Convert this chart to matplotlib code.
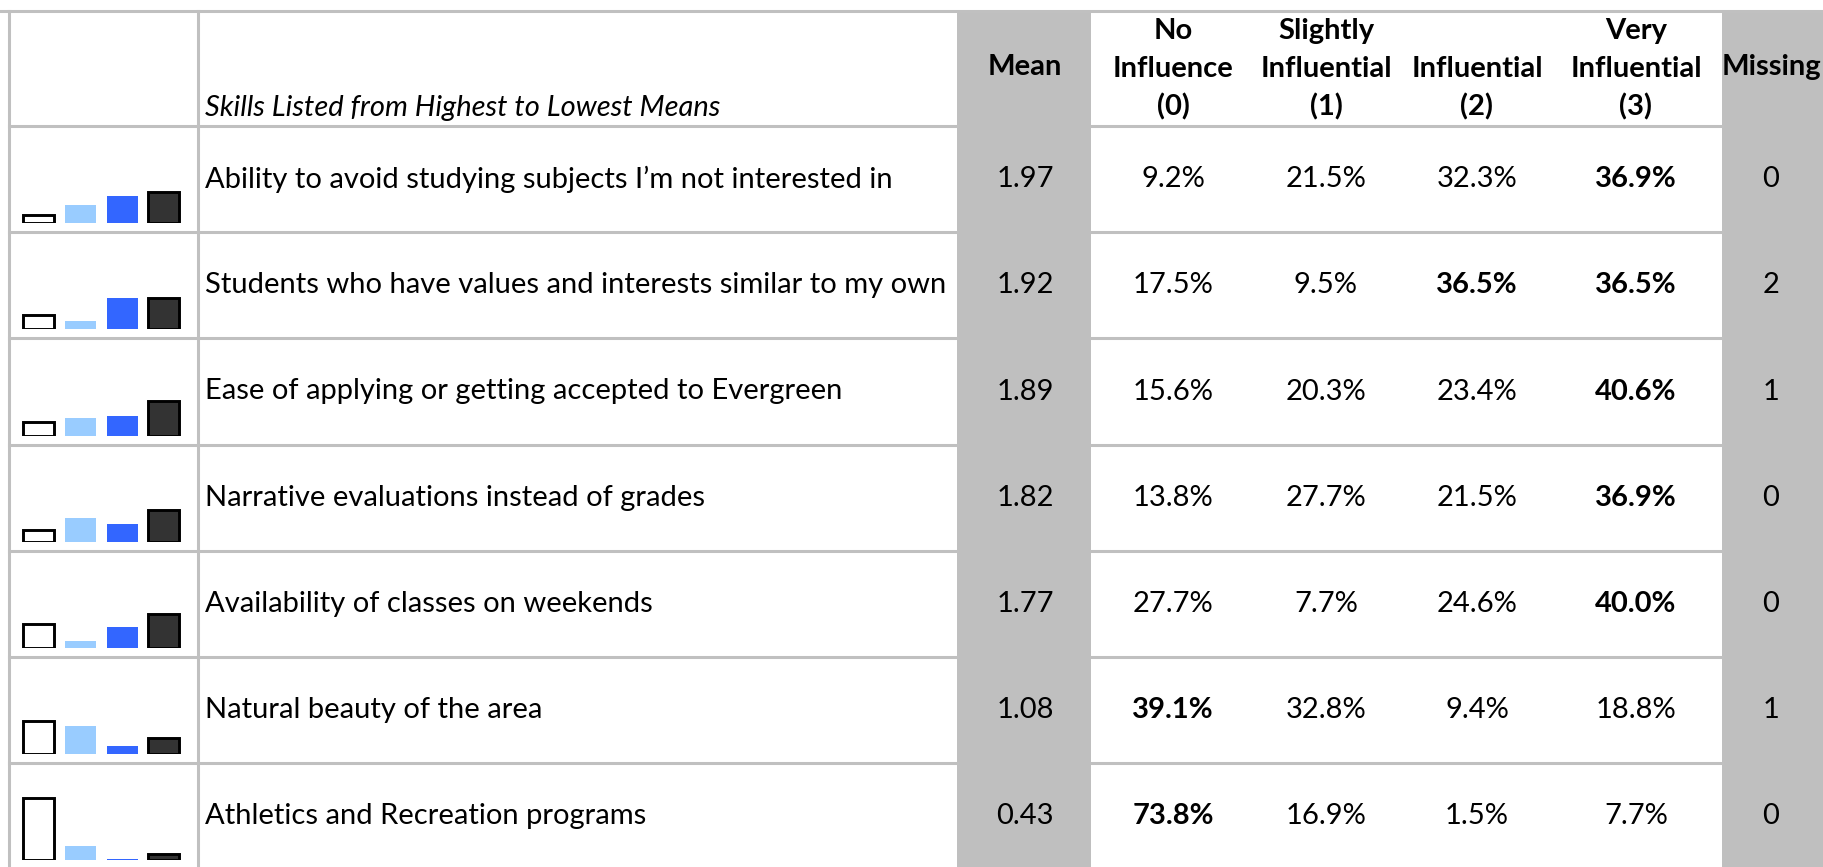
import matplotlib
matplotlib.use("Agg")
import matplotlib.pyplot as plt
import numpy as np

plt.rcParams['font.family'] = ['Lato', 'DejaVu Sans']

# table data
skills = [
    "Ability to avoid studying subjects I\u2019m not interested in",
    "Students who have values and interests similar to my own",
    "Ease of applying or getting accepted to Evergreen",
    "Narrative evaluations instead of grades",
    "Availability of classes on weekends",
    "Natural beauty of the area",
    "Athletics and Recreation programs",
]
means = [1.97, 1.92, 1.89, 1.82, 1.77, 1.08, 0.43]
no_infl = [9.2, 17.5, 15.6, 13.8, 27.7, 39.1, 73.8]
slightly = [21.5, 9.5, 20.3, 27.7, 7.7, 32.8, 16.9]
influential = [32.3, 36.5, 23.4, 21.5, 24.6, 9.4, 1.5]
very = [36.9, 36.5, 40.6, 36.9, 40.0, 18.8, 7.7]
missing = [0, 2, 1, 0, 0, 1, 0]

headers = ["Mean", "No\nInfluence\n(0)", "Slightly\nInfluential\n(1)",
           "\nInfluential\n(2)", "Very\nInfluential\n(3)", "Missing"]

W, H = 1824, 867
fig = plt.figure(figsize=(W / 100, H / 100), dpi=100)
ax = fig.add_axes([0, 0, 1, 1])
ax.set_xlim(0, W)
ax.set_ylim(H, 0)
ax.axis('off')

grid = '#C0C0C0'
shade = '#BFBFBF'
top = 11
head_bot = 126
row_h = 106.2
col_x = [1025, 1173, 1326, 1477, 1636, 1771]
fs = 21

# shaded columns
ax.axvspan(957, 1091, ymin=0, ymax=1 - top / H, color=shade, lw=0, zorder=0)
ax.axvspan(1722, W, ymin=0, ymax=1 - top / H, color=shade, lw=0, zorder=0)

# grid lines
ax.axhline(top, color=grid, lw=2.2, zorder=1)
for i in range(len(skills) + 1):
    y = head_bot + i * row_h
    ax.plot([9, 957], [y, y], color=grid, lw=2.2, zorder=1)
    ax.plot([1091, 1722], [y, y], color=grid, lw=2.2, zorder=1)
for x in [9, 198]:
    ax.plot([x, x], [top, H], color=grid, lw=2.2, zorder=1)

# header
ax.text(205, 108, "Skills Listed from Highest to Lowest Means", fontsize=fs,
        style='italic', va='center', ha='left')
for x, h in zip(col_x, headers):
    lines = h.split("\n")
    if len(lines) == 1:
        ax.text(x, 67, h, fontsize=fs, weight='bold', ha='center', va='center')
    else:
        for k, s in enumerate(lines):
            if s:
                ax.text(x, 31 + k * 38, s, fontsize=fs, weight='bold',
                        ha='center', va='center')

# rows
for i, name in enumerate(skills):
    yc = head_bot + (i + 0.5) * row_h
    ax.text(205, yc, name, fontsize=fs, ha='left', va='center')
    ax.text(col_x[0], yc, f"{means[i]:.2f}", fontsize=fs, ha='center', va='center')
    pcts = [no_infl[i], slightly[i], influential[i], very[i]]
    top_val = max(pcts)
    for j, p in enumerate(pcts):
        ax.text(col_x[j + 1], yc, f"{p:.1f}%", fontsize=fs, ha='center', va='center',
                weight='bold' if p == top_val else 'normal')
    ax.text(col_x[5], yc, str(missing[i]), fontsize=fs, ha='center', va='center')

    # mini bar chart
    base = head_bot + (i + 1) * row_h - 9
    bax = fig.add_axes([17.6 / W, 1 - base / H, 167.2 / W, 85 / H])
    bax.bar(np.arange(4), pcts, width=0.74,
            color=['white', '#99CCFF', '#3366FF', '#333333'],
            edgecolor=['black', 'none', 'none', 'black'], linewidth=2.1)
    bax.set_xlim(-0.5, 3.5)
    bax.set_ylim(0, 100)
    bax.axis('off')

fig.savefig("out.png", dpi=100)
